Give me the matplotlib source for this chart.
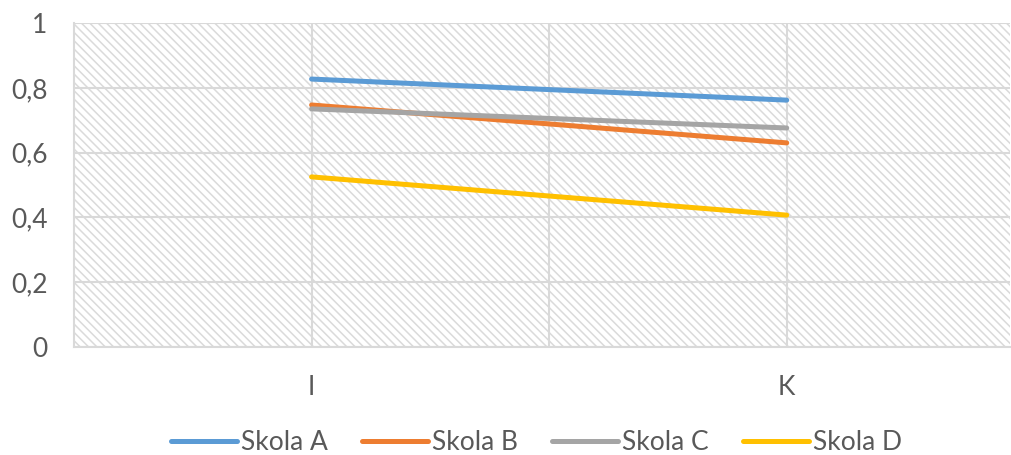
import matplotlib.pyplot as plt
from matplotlib.patches import Rectangle
from matplotlib.ticker import FuncFormatter

# Datos
categorias = ['I', 'K']
skola_a = [0.827, 0.762]
skola_b = [0.747, 0.630]
skola_c = [0.735, 0.676]
skola_d = [0.525, 0.407]
series = ['Skola A', 'Skola B', 'Skola C', 'Skola D']
colores = ['#5B9BD5', '#ED7D31', '#A5A5A5', '#FFC000']

plt.rcParams['font.family'] = ['Lato', 'DejaVu Sans']
plt.rcParams['hatch.color'] = '#dadada'
plt.rcParams['hatch.linewidth'] = 1.1

fig = plt.figure(figsize=(10.12, 4.55), dpi=100)
ax = fig.add_axes([0.0731, 0.2374, 0.925, 0.712])

# Fondo rayado
ax.add_patch(Rectangle((0, 0), 1, 1, transform=ax.transAxes, facecolor='white',
                       edgecolor='#dadada', hatch='\\\\\\\\', linewidth=0, zorder=0))

x = list(range(len(categorias)))
for valores, nombre, color in zip([skola_a, skola_b, skola_c, skola_d], series, colores):
    ax.plot(x, valores, color=color, linewidth=3.6, solid_capstyle='round',
            label=nombre, zorder=3)

ax.set_xlim(-0.5, 1.47)
ax.set_ylim(0, 1)
ax.set_yticks([0, 0.2, 0.4, 0.6, 0.8, 1])
ax.yaxis.set_major_formatter(FuncFormatter(lambda v, p: ('%g' % v).replace('.', ',')))
ax.set_xticks(x)
ax.set_xticklabels(categorias)
ax.set_xticks([0.5], minor=True)

ax.grid(True, which='both', color='#d9d9d9', linewidth=1.5, zorder=1)
ax.set_axisbelow(True)
ax.tick_params(which='both', length=0, labelsize=19, colors='#595959')
ax.tick_params(axis='x', pad=20)
ax.tick_params(axis='y', pad=19)
for lado in ['top', 'right']:
    ax.spines[lado].set_visible(False)
for lado in ['bottom', 'left']:
    ax.spines[lado].set_color('#d9d9d9')
    ax.spines[lado].set_linewidth(1.5)

leg = fig.legend(loc='center', bbox_to_anchor=(0.530, 0.028), ncol=4,
                 frameon=False, fontsize=19, handlelength=2.5, handletextpad=0.15,
                 columnspacing=1.3, borderpad=0)
for t in leg.get_texts():
    t.set_color('#595959')

plt.savefig('out.png', dpi=100)
